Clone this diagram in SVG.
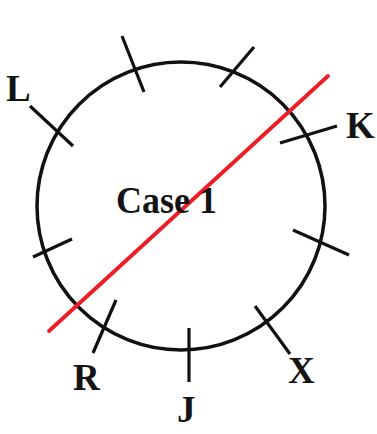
<svg xmlns="http://www.w3.org/2000/svg" width="377" height="434" viewBox="0 0 377 434">
<style>
.ring{fill:none;stroke:#111;stroke-width:3.5}
.tick{stroke:#111;stroke-width:3.2;stroke-linecap:butt}
.cut{stroke:#ee1c25;stroke-width:3.8;stroke-linecap:round}
.lbl{font-family:"Liberation Serif","DejaVu Serif",serif;font-weight:bold;font-size:37px;fill:#141414}
</style>
<rect width="377" height="434" fill="#fff"/>
<g id="circle">
<ellipse class="ring" cx="181" cy="206" rx="144" ry="144"/>
</g>
<g id="ticks">
<line class="tick" x1="122" y1="36" x2="144" y2="92"/>
<line class="tick" x1="254" y1="47" x2="220" y2="87"/>
<line class="tick" x1="30" y1="106" x2="73" y2="146"/>
<line class="tick" x1="280" y1="143" x2="337" y2="126"/>
<line class="tick" x1="293" y1="230" x2="349" y2="255"/>
<line class="tick" x1="255" y1="306" x2="290" y2="354"/>
<line class="tick" x1="189" y1="328" x2="189" y2="382"/>
<line class="tick" x1="116" y1="300" x2="93" y2="353"/>
<line class="tick" x1="33" y1="257" x2="72" y2="239"/>
</g>
<g id="connectors">
<line class="cut" x1="49" y1="331" x2="328" y2="76"/>
</g>
<g id="labels">
<text class="lbl" x="116" y="213" textLength="101" lengthAdjust="spacingAndGlyphs">Case 1</text>
<text class="lbl" x="6" y="101">L</text>
<text class="lbl" x="346" y="138">K</text>
<text class="lbl" x="73" y="390">R</text>
<text class="lbl" x="177" y="422">J</text>
<text class="lbl" x="288" y="383">X</text>
</g>
</svg>
